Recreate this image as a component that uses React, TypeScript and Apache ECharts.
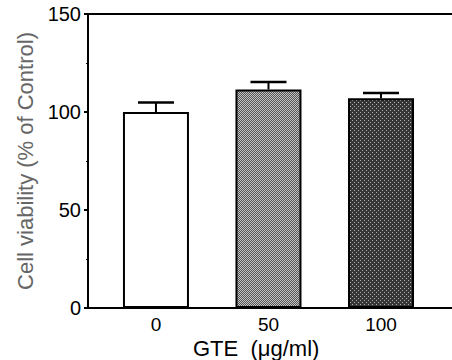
import React, { useEffect, useRef } from "react";
import * as echarts from "echarts";

const categories = ["0", "50", "100"];
const viability = [100, 111.5, 107];
const sd = [4.8, 3.8, 2.7];
const yTicks = [0, 50, 100, 150];

function makePattern(dark: string, light: string, lightDensity: number) {
  const c = document.createElement("canvas");
  c.width = 4;
  c.height = 4;
  const ctx = c.getContext("2d")!;
  ctx.fillStyle = dark;
  ctx.fillRect(0, 0, 4, 4);
  ctx.fillStyle = light;
  if (lightDensity >= 2) {
    ctx.fillRect(0, 0, 1, 1);
    ctx.fillRect(2, 0, 1, 1);
    ctx.fillRect(1, 1, 1, 1);
    ctx.fillRect(3, 1, 1, 1);
    ctx.fillRect(0, 2, 1, 1);
    ctx.fillRect(2, 2, 1, 1);
    ctx.fillRect(1, 3, 1, 1);
    ctx.fillRect(3, 3, 1, 1);
  } else {
    ctx.fillRect(0, 0, 1, 1);
    ctx.fillRect(2, 2, 1, 1);
  }
  return c;
}

export default function App() {
  const ref = useRef<HTMLDivElement>(null);
  useEffect(() => {
    if (!ref.current) return;
    const chart = echarts.init(ref.current, undefined, { renderer: "svg" });
    const fills: any[] = [
      "#ffffff",
      { image: makePattern("#545454", "#c4c4c4", 2), repeat: "repeat" },
      { image: makePattern("#363636", "#b0b0b0", 1), repeat: "repeat" },
    ];
    const font = "'Liberation Sans', Arial, sans-serif";
    const xMin = -0.604;
    const xMax = 2.631;
    chart.setOption({
      animation: false,
      grid: { left: 88, top: 14, bottom: 52, right: 0 },
      xAxis: [
        {
          type: "value",
          min: xMin,
          max: xMax,
          splitLine: { show: false },
          axisLine: { show: true, onZero: false, lineStyle: { color: "#000", width: 2 } },
          axisTick: { show: false },
          axisLabel: {
            customValues: [0, 1, 2],
            formatter: (v: number) => categories[Math.round(v)] ?? "",
            color: "#000",
            fontSize: 19,
            fontFamily: font,
            margin: 7,
          },
        },
        {
          type: "value",
          position: "top",
          min: xMin,
          max: xMax,
          splitLine: { show: false },
          axisLine: { show: true, onZero: false, lineStyle: { color: "#000", width: 2 } },
          axisTick: { show: false },
          axisLabel: { show: false },
        },
      ],
      yAxis: {
        type: "value",
        min: 0,
        max: 150,
        interval: 50,
        name: "Cell viability (% of Control)",
        nameLocation: "middle",
        nameGap: 49,
        nameTextStyle: { color: "#666", fontSize: 22, fontFamily: font },
        splitLine: { show: false },
        axisLine: { show: true, onZero: false, lineStyle: { color: "#000", width: 2 } },
        axisTick: { show: true, inside: false, length: 4, lineStyle: { color: "#000", width: 2 } },
        minorTick: { show: true, splitNumber: 2, length: 2, lineStyle: { color: "#000", width: 1 } },
        axisLabel: {
          customValues: yTicks,
          color: "#000",
          fontSize: 20,
          fontFamily: font,
          margin: 7,
        },
      },
      graphic: [
        {
          type: "text",
          left: 193,
          top: 337,
          style: { text: "GTE  (μg/ml)", fill: "#000", font: `22px ${font}` },
        },
      ],
      series: [
        {
          type: "bar",
          barWidth: 66,
          data: viability.map((v, i) => ({
            value: [i, v],
            itemStyle: { color: fills[i], borderColor: "#000", borderWidth: 2 },
          })),
          z: 2,
        },
        {
          type: "custom",
          z: 1,
          data: viability.map((v, i) => [i, v, v + sd[i]]),
          renderItem: (params: any, api: any) => {
            const x = api.value(0);
            const base = api.coord([x, api.value(1)]);
            const top = api.coord([x, api.value(2)]);
            const half = 18;
            return {
              type: "group",
              children: [
                {
                  type: "line",
                  shape: { x1: base[0], y1: base[1], x2: top[0], y2: top[1] },
                  style: { stroke: "#000", lineWidth: 2 },
                },
                {
                  type: "line",
                  shape: { x1: top[0] - half, y1: top[1], x2: top[0] + half, y2: top[1] },
                  style: { stroke: "#000", lineWidth: 2.5 },
                },
              ],
            };
          },
        },
      ],
    });
    return () => chart.dispose();
  }, []);
  return <div ref={ref} style={{ width: 452, height: 360, position: "absolute", left: 0, top: 0 }} />;
}
